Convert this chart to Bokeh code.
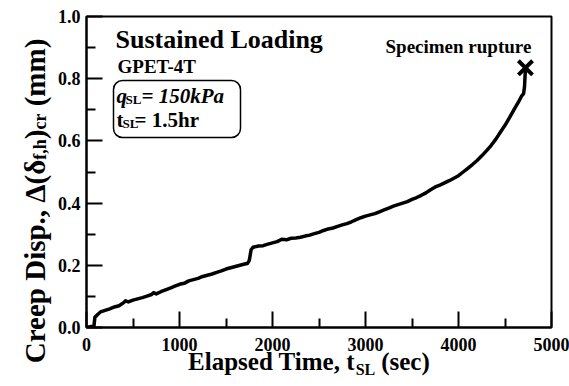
from bokeh.plotting import figure
from bokeh.models import (Range1d, FixedTicker, PrintfTickFormatter, Label,
                          BoxAnnotation, LinearAxis)
from bokeh.embed import file_html
from bokeh.resources import INLINE

# ---------------- data ----------------
time_s = [0, 50, 80, 90, 120, 150, 200, 250, 300, 350, 400, 420, 450, 500, 550,
          600, 650, 700, 720, 750, 800, 850, 900, 950, 1000, 1050, 1100, 1150,
          1200, 1250, 1300, 1350, 1400, 1450, 1500, 1550, 1600, 1650, 1700, 1730,
          1750, 1770, 1790, 1850, 1900, 1950, 2000, 2050, 2100, 2150, 2200, 2250,
          2300, 2350, 2400, 2450, 2500, 2550, 2600, 2650, 2700, 2750, 2800, 2850,
          2900, 2950, 3000, 3050, 3100, 3150, 3200, 3250, 3300, 3350, 3400, 3450,
          3500, 3550, 3600, 3650, 3700, 3750, 3800, 3850, 3900, 3950, 4000, 4050,
          4100, 4150, 4200, 4250, 4300, 4350, 4400, 4450, 4500, 4550, 4600, 4650,
          4680, 4700, 4710, 4720]
creep_mm = [0.000, 0.003, 0.004, 0.033, 0.042, 0.050, 0.055, 0.060, 0.066, 0.070,
            0.080, 0.086, 0.082, 0.088, 0.092, 0.096, 0.101, 0.106, 0.112, 0.108,
            0.115, 0.121, 0.127, 0.133, 0.139, 0.142, 0.150, 0.154, 0.158, 0.164,
            0.168, 0.172, 0.177, 0.182, 0.188, 0.192, 0.196, 0.200, 0.204, 0.206,
            0.215, 0.250, 0.258, 0.262, 0.263, 0.268, 0.272, 0.276, 0.284, 0.282,
            0.287, 0.288, 0.290, 0.294, 0.297, 0.302, 0.306, 0.312, 0.317, 0.320,
            0.325, 0.330, 0.334, 0.340, 0.347, 0.353, 0.358, 0.362, 0.366, 0.372,
            0.378, 0.384, 0.390, 0.395, 0.400, 0.405, 0.412, 0.418, 0.425, 0.433,
            0.443, 0.452, 0.458, 0.465, 0.472, 0.480, 0.488, 0.500, 0.512, 0.524,
            0.537, 0.552, 0.568, 0.585, 0.605, 0.628, 0.650, 0.676, 0.702, 0.728,
            0.745, 0.752, 0.775, 0.835]
rupture_t = [4720]
rupture_d = [0.835]

x_ticks = [0, 1000, 2000, 3000, 4000, 5000]
x_minor = [500, 1500, 2500, 3500, 4500]
y_ticks = [0.0, 0.2, 0.4, 0.6, 0.8, 1.0]
y_minor = [0.1, 0.3, 0.5, 0.7, 0.9]

x_title_main = ["Elapsed Time, t", "(sec)"]
x_title_sub = ["SL"]
y_title_main = ["Creep Disp., \u0394(\u03b4", ")", "(mm)"]
y_title_sub = ["f,h", "cr"]

# ---------------- layout ----------------
W, H = 569, 386
FL, FR, FT, FB = 86, 551, 16, 327   # frame edges in pixels
X0, X1, Y0, Y1 = 0, 5000, 0.0, 1.0

def dx(px):
    return X0 + (px - FL) / (FR - FL) * (X1 - X0)

def dy(py):
    return Y0 + (FB - py) / (FB - FT) * (Y1 - Y0)

FONT = "Liberation Serif"

p = figure(width=W, height=H, output_backend="svg", toolbar_location=None,
           x_range=Range1d(X0, X1), y_range=Range1d(Y0, Y1))
p.min_border_left = FL
p.min_border_right = W - FR
p.min_border_top = FT
p.min_border_bottom = H - FB
p.background_fill_color = "white"
p.border_fill_color = "white"
p.outline_line_color = "black"
p.outline_line_width = 2
p.xgrid.visible = False
p.ygrid.visible = False

p.xaxis.ticker = FixedTicker(ticks=x_ticks, minor_ticks=x_minor)
p.yaxis.ticker = FixedTicker(ticks=y_ticks, minor_ticks=y_minor)
p.yaxis.formatter = PrintfTickFormatter(format="%.1f")
for ax in (p.xaxis[0], p.yaxis[0]):
    ax.axis_line_color = "black"
    ax.axis_line_width = 2
    ax.major_tick_line_color = "black"
    ax.major_tick_line_width = 2
    ax.minor_tick_line_color = "black"
    ax.minor_tick_line_width = 2
    ax.major_tick_in = 16
    ax.major_tick_out = 0
    ax.minor_tick_in = 9
    ax.minor_tick_out = 0
    ax.major_label_text_font = FONT
    ax.major_label_text_font_style = "bold"
    ax.major_label_text_font_size = "18px"
    ax.major_label_text_color = "black"
    ax.axis_label = None
p.xaxis.major_label_standoff = 10
p.yaxis.major_label_standoff = 6

# pixel-based helper ranges used only to place the axis-title pieces
p.extra_x_ranges = {"px": Range1d(FL, FR)}
p.extra_y_ranges = {"px": Range1d(FB, FT)}

def title_axis(side, centers, texts, size, standoff):
    kw = {"x_range_name": "px"} if side == "below" else {"y_range_name": "px"}
    ax = LinearAxis(**kw)
    ax.ticker = FixedTicker(ticks=centers, minor_ticks=[])
    ax.major_label_overrides = {c: t for c, t in zip(centers, texts)}
    ax.axis_line_color = None
    ax.major_tick_line_color = None
    ax.minor_tick_line_color = None
    ax.major_tick_in = 0
    ax.major_tick_out = 0
    ax.minor_tick_in = 0
    ax.minor_tick_out = 0
    ax.major_label_standoff = standoff
    ax.major_label_text_font = FONT
    ax.major_label_text_font_style = "bold"
    ax.major_label_text_font_size = f"{size}px"
    ax.major_label_text_color = "black"
    if side == "left":
        ax.major_label_orientation = "parallel"
    p.add_layout(ax, side)

# x title: main pieces, then subscript pulled up next to them
title_axis("below", [271, 405], x_title_main, 25, -6)
title_axis("below", [365], x_title_sub, 16, -17)
# y title: subscripts first (closer to frame), then main pieces
title_axis("left", [149, 121], y_title_sub, 18, 5)
title_axis("left", [261, 134, 72], y_title_main, 29, -24)

# curve and rupture marker
p.line(time_s, creep_mm, line_color="black", line_width=3.5, line_join="round")
p.scatter(rupture_t, rupture_d, marker="x", size=20, line_color="black", line_width=4)

def lab(px, py, text, size, style="bold"):
    p.add_layout(Label(x=dx(px), y=dy(py), text=text, text_font=FONT,
                       text_font_style=style, text_font_size=f"{size}px",
                       text_color="black", text_align="left",
                       text_baseline="alphabetic"))

# in-plot annotations
lab(115, 39, "Sustained Loading", 26)
lab(117, 66, "GPET-4T", 19)
p.add_layout(BoxAnnotation(left=dx(113), right=dx(240), top=dy(80), bottom=dy(137),
                           fill_alpha=0, line_color="black", line_alpha=1.0,
                           line_width=1.5, border_radius=9))
lab(116, 95, "q", 21, "bold italic")
lab(125, 99, "SL", 13)
lab(141, 95, "= 150kPa", 21, "bold italic")
lab(116, 119, "t", 21)
lab(122, 123, "SL", 13)
lab(134, 119, "= 1.5hr", 21)
lab(385, 46, "Specimen rupture", 19)

open("out.html", "w").write(file_html(p, INLINE))
